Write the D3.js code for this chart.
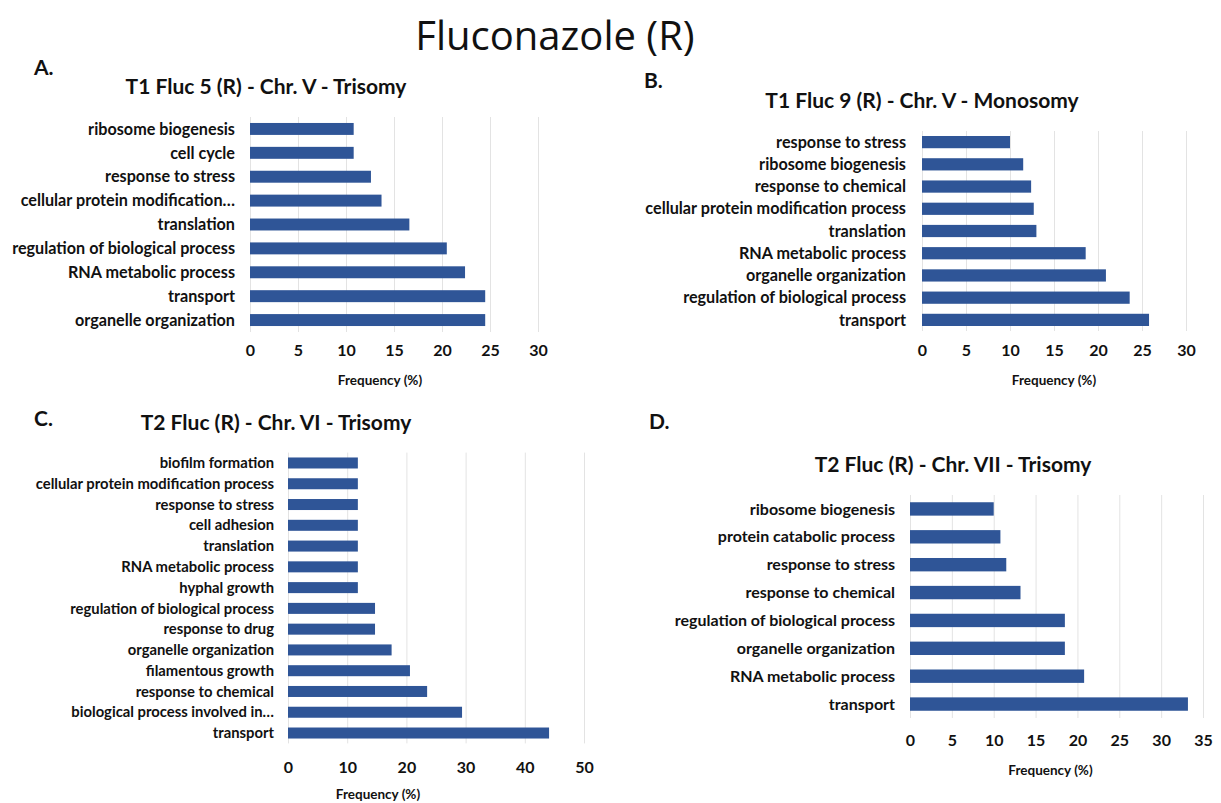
<!DOCTYPE html>
<html>
<head>
<meta charset="utf-8">
<script src="https://cdn.jsdelivr.net/npm/d3@7"></script>
<style>
  body { margin: 0; background: #fff; }
  svg text { font-family: Lato, "Open Sans", sans-serif; fill: #111; }
</style>
</head>
<body>
<div id="chart"></div>
<script>
// --- data ---
const catsA = ["ribosome biogenesis", "cell cycle", "response to stress", "cellular protein modification…",
  "translation", "regulation of biological process", "RNA metabolic process", "transport", "organelle organization"];
const valsA = [10.8, 10.8, 12.6, 13.7, 16.6, 20.5, 22.4, 24.5, 24.5];
const ticksA = [0, 5, 10, 15, 20, 25, 30];

const catsB = ["response to stress", "ribosome biogenesis", "response to chemical", "cellular protein modification process",
  "translation", "RNA metabolic process", "organelle organization", "regulation of biological process", "transport"];
const valsB = [10.0, 11.5, 12.4, 12.7, 13.0, 18.6, 20.9, 23.6, 25.8];
const ticksB = [0, 5, 10, 15, 20, 25, 30];

const catsC = ["biofilm formation", "cellular protein modification process", "response to stress", "cell adhesion",
  "translation", "RNA metabolic process", "hyphal growth", "regulation of biological process", "response to drug",
  "organelle organization", "filamentous growth", "response to chemical", "biological process involved in…", "transport"];
const valsC = [11.8, 11.8, 11.8, 11.8, 11.8, 11.8, 11.8, 14.7, 14.7, 17.5, 20.6, 23.5, 29.4, 44.1];
const ticksC = [0, 10, 20, 30, 40, 50];

const catsD = ["ribosome biogenesis", "protein catabolic process", "response to stress", "response to chemical",
  "regulation of biological process", "organelle organization", "RNA metabolic process", "transport"];
const valsD = [10.0, 10.8, 11.5, 13.2, 18.5, 18.5, 20.8, 33.2];
const ticksD = [0, 5, 10, 15, 20, 25, 30, 35];

const barColor = "#2f5597";

const svg = d3.select("#chart").append("svg")
  .attr("width", 1221)
  .attr("height", 803);

// big title
svg.append("text")
  .attr("x", 555).attr("y", 50)
  .attr("text-anchor", "middle")
  .attr("font-size", 40)
  .style("font-family", "'Open Sans', Lato, sans-serif")
  .text("Fluconazole (R)");

function panel(cfg) {
  const x = d3.scaleLinear()
    .domain([0, cfg.max])
    .range([cfg.left, cfg.right]);

  const y = d3.scaleBand()
    .domain(cfg.cats)
    .range([cfg.top, cfg.bottom])
    .paddingInner(cfg.pad)
    .paddingOuter(cfg.pad / 2);

  const g = svg.append("g");

  // letter + title
  g.append("text")
    .attr("x", cfg.letterX).attr("y", cfg.letterY)
    .attr("font-size", 21).attr("font-weight", "bold")
    .text(cfg.letter);
  g.append("text")
    .attr("x", cfg.titleX).attr("y", cfg.titleY)
    .attr("text-anchor", "middle")
    .attr("font-size", 21).attr("font-weight", "bold")
    .text(cfg.title);

  // gridlines + tick labels
  const ax = g.append("g")
    .attr("transform", `translate(0,${cfg.bottom})`)
    .call(d3.axisBottom(x)
      .tickValues(cfg.ticks)
      .tickSize(-(cfg.bottom - cfg.top))
      .tickPadding(cfg.tickPad));
  ax.select(".domain").remove();
  ax.selectAll(".tick line").attr("stroke", "#e3e3e3");
  ax.selectAll(".tick text")
    .attr("font-size", 16).attr("font-weight", "bold")
    .style("font-family", "Lato, sans-serif")
    .attr("fill", "#111");

  g.append("text")
    .attr("x", (cfg.left + cfg.right) / 2 - cfg.titleShift)
    .attr("y", cfg.bottom + cfg.axisTitleDy)
    .attr("text-anchor", "middle")
    .attr("font-size", 13.5).attr("font-weight", "bold")
    .text("Frequency (%)");

  // bars
  g.selectAll("rect.bar")
    .data(cfg.cats.map((c, i) => ({ c, v: cfg.vals[i] })))
    .enter().append("rect")
    .attr("class", "bar")
    .attr("x", x(0))
    .attr("y", d => y(d.c))
    .attr("width", d => x(d.v) - x(0))
    .attr("height", y.bandwidth())
    .attr("fill", barColor);

  // category labels
  g.selectAll("text.cat")
    .data(cfg.cats)
    .enter().append("text")
    .attr("class", "cat")
    .attr("x", x(0) - cfg.labelGap)
    .attr("y", d => y(d) + y.bandwidth() / 2)
    .attr("dy", "0.35em")
    .attr("text-anchor", "end")
    .attr("font-size", cfg.labelSize).attr("font-weight", "bold")
    .text(d => d);
}

panel({ cats: catsA, vals: valsA, ticks: ticksA, max: 30,
  left: 250, right: 538, top: 117, bottom: 332, pad: 0.5,
  letter: "A.", letterX: 34, letterY: 75,
  title: "T1 Fluc 5 (R) - Chr. V - Trisomy", titleX: 266, titleY: 94,
  tickPad: 13, axisTitleDy: 53, titleShift: 14, labelGap: 15, labelSize: 16.2 });

panel({ cats: catsB, vals: valsB, ticks: ticksB, max: 30,
  left: 922, right: 1186, top: 131, bottom: 331, pad: 0.45,
  letter: "B.", letterX: 644, letterY: 88,
  title: "T1 Fluc 9 (R) - Chr. V - Monosomy", titleX: 922, titleY: 108,
  tickPad: 14, axisTitleDy: 54, titleShift: 0, labelGap: 16, labelSize: 16.2 });

panel({ cats: catsC, vals: valsC, ticks: ticksC, max: 50,
  left: 288, right: 584, top: 452.6, bottom: 743.4, pad: 0.47,
  letter: "C.", letterX: 34, letterY: 426,
  title: "T2 Fluc (R) - Chr. VI - Trisomy", titleX: 276, titleY: 430,
  tickPad: 18, axisTitleDy: 56, titleShift: 58, labelGap: 14, labelSize: 14.8 });

panel({ cats: catsD, vals: valsD, ticks: ticksD, max: 35,
  left: 910, right: 1203, top: 495, bottom: 718, pad: 0.52,
  letter: "D.", letterX: 649, letterY: 429,
  title: "T2 Fluc (R) - Chr. VII - Trisomy", titleX: 953, titleY: 472,
  tickPad: 17, axisTitleDy: 57, titleShift: 6, labelGap: 15, labelSize: 16 });
</script>
</body>
</html>
